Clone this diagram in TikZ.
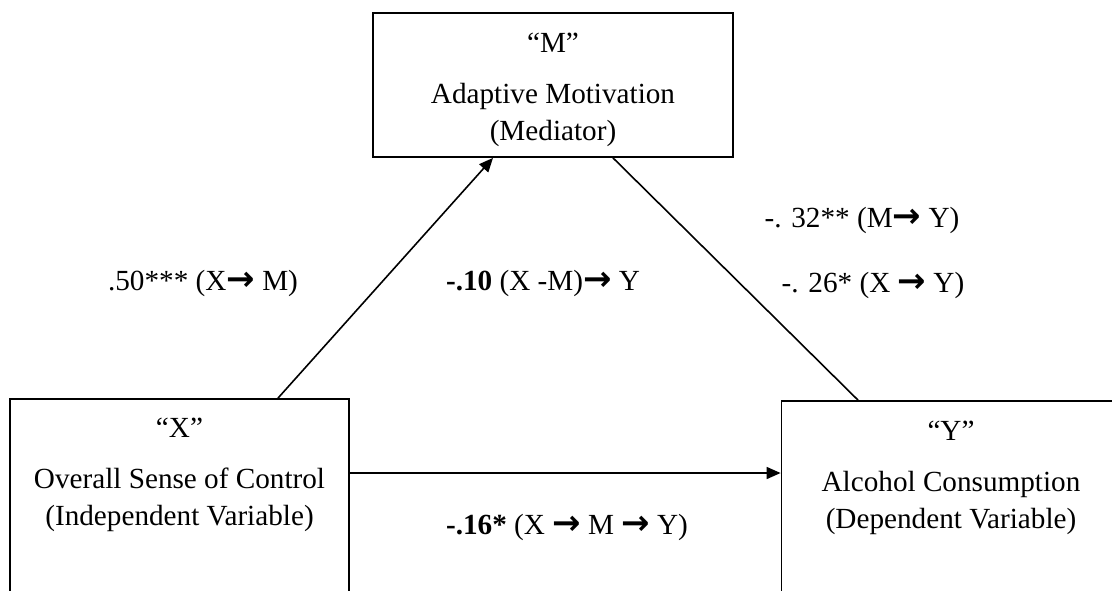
\documentclass[tikz,border=0pt]{standalone}
\usepackage{fontspec}
\setmainfont{Liberation Serif}
\newfontfamily\arrowfont{DejaVu Sans}
\newcommand{\ra}{{\arrowfont\bfseries\fontsize{17pt}{18.5pt}\selectfont →}}
\usetikzlibrary{arrows.meta,positioning}

\begin{document}
\begin{tikzpicture}[x=0.5pt,y=-0.5pt,
  font=\fontsize{14.6pt}{18.5pt}\selectfont,
  box/.style={draw,line width=0.9pt,inner sep=0pt},
  boxtext/.style={align=center,inner sep=0pt},
  coef/.style={inner sep=0pt},
  arr/.style={-{Triangle[length=7pt,width=6pt]},line width=0.8pt}]
\useasboundingbox (0,0) rectangle (1112,590);
\clip (0,0) rectangle (1112,590);
% variables
\node[box,minimum width=180pt,minimum height=72pt] (M) at (553,85) {};
\node[box,minimum width=169.5pt,minimum height=110.5pt] (X) at (179.5,509.5) {};
\node[box,minimum width=169.5pt,minimum height=109.5pt] (Y) at (951,510.5) {};
\node[boxtext,below=10.5pt of M.north] (Mtext) {“M”\\[7pt]Adaptive Motivation\\(Mediator)};
\node[boxtext,below=10pt of X.north] (Xtext) {“X”\\[7pt]Overall Sense of Control\\(Independent Variable)};
\node[boxtext,below=10.5pt of Y.north] (Ytext) {“Y”\\[7pt]Alcohol Consumption\\(Dependent Variable)};
% paths
\draw[arr] ([xshift=49.25pt]X.north) -- ([xshift=-30pt]M.south);
\draw[line width=0.8pt] ([xshift=30pt]M.south) -- ([xshift=-46.5pt]Y.north);
\coordinate (xy) at ([yshift=18.25pt]X.east);
\draw[arr] (xy) -- (xy -| Y.west);
% coefficients
\node[coef] (cxm) at (203,283) {.50*** (X\ra{} M)};
\node[coef] (cdir) at (543,283) {\textbf{-.10} (X -M)\ra{} Y};
\node[coef] (cmy) at (862,220) {-. 32** (M\ra{} Y)};
\node[coef] (cxy) at (873,285) {-. 26* (X \ra{} Y)};
\node[coef] (cind) at (567,527) {\textbf{-.16*} (X \ra{} M \ra{} Y)};
\end{tikzpicture}
\end{document}
